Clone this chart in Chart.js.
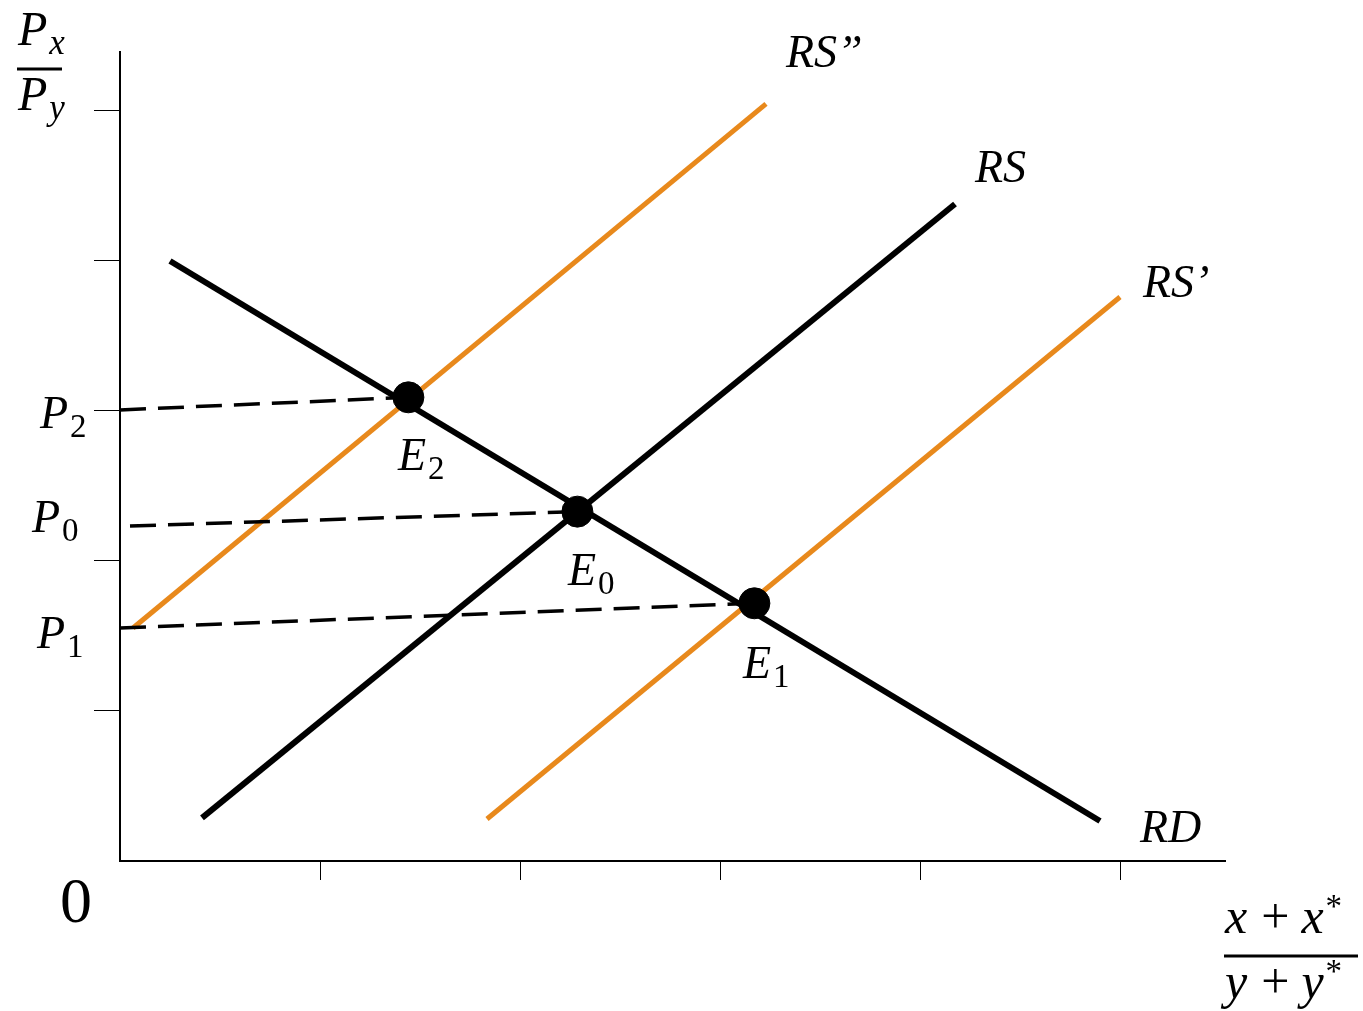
<!DOCTYPE html>
<html>
<head>
<meta charset="utf-8">
<script src="https://cdn.jsdelivr.net/npm/chart.js@4.4.0/dist/chart.umd.min.js"></script>
<style>
  html, body { margin: 0; padding: 0; background: #fff; }
  canvas { display: block; }
</style>
</head>
<body>
<canvas id="chart" width="1363" height="1011"></canvas>
<script>
// axis ticks (unlabelled)
const xTicks = [1, 2, 3, 4, 5];
const yTicks = [1, 2, 3, 4, 5];

// curves, in axis units
const rdCurve = [{x: 0.25, y: 4.0}, {x: 4.9, y: 0.267}];
const rsCurve = [{x: 0.41, y: 0.287}, {x: 4.175, y: 4.38}];
const rsHighCurve = [{x: 0.065, y: 1.553}, {x: 3.23, y: 5.047}];  // RS''
const rsLowCurve = [{x: 1.835, y: 0.28}, {x: 5.0, y: 3.76}];      // RS'

// equilibrium points E2, E0, E1
const equilibria = [{x: 1.442, y: 3.091}, {x: 2.287, y: 2.329}, {x: 3.172, y: 1.718}];

// dashed price lines
const p2Line = [{x: 0, y: 3.007}, {x: 1.442, y: 3.091}];
const p0Line = [{x: 0.05, y: 2.233}, {x: 2.287, y: 2.329}];
const p1Line = [{x: 0, y: 1.553}, {x: 3.172, y: 1.718}];

const ORANGE = '#E8891C';
const FONT = '"Liberation Serif", "Times New Roman", serif';

// text labels: anchor (left, baseline) in axis units, font size, then runs
// run: [text, italic, kind] kind: '' normal, 'sub', 'sup', 'op'
const labels = [
  {x: 3.33, y: 5.293, size: 46, runs: [['RS\u201D', true, '']]},
  {x: 4.275, y: 4.527, size: 46, runs: [['RS', true, '']]},
  {x: 5.115, y: 3.76, size: 46, runs: [['RS\u2019', true, '']]},
  {x: 5.1, y: 0.127, size: 46, runs: [['RD', true, '']]},
  {x: 1.39, y: 2.607, size: 46, runs: [['E', true, ''], ['2', false, 'sub']]},
  {x: 2.24, y: 1.84, size: 46, runs: [['E', true, ''], ['0', false, 'sub']]},
  {x: 3.115, y: 1.22, size: 46, runs: [['E', true, ''], ['1', false, 'sub']]},
  {x: -0.4, y: 2.887, size: 46, runs: [['P', true, ''], ['2', false, 'sub']]},
  {x: -0.44, y: 2.193, size: 46, runs: [['P', true, ''], ['0', false, 'sub']]},
  {x: -0.415, y: 1.42, size: 46, runs: [['P', true, ''], ['1', false, 'sub']]},
  {x: -0.51, y: 5.44, size: 48, runs: [['P', true, ''], ['x', true, 'sub']]},
  {x: -0.51, y: 5.007, size: 48, runs: [['P', true, ''], ['y', true, 'sub']]},
  {x: 5.525, y: -0.48, size: 50, runs: [['x', true, ''], ['+', false, 'op'], ['x', true, ''], ['*', false, 'sup']]},
  {x: 5.525, y: -0.913, size: 50, runs: [['y', true, ''], ['+', false, 'op'], ['y', true, ''], ['*', false, 'sup']]}
];

// fraction bars (axis units)
const fractionBars = [
  {x0: -0.515, x1: -0.29, y: 5.28},
  {x0: 5.52, x1: 6.19, y: -0.633}
];

const textPlugin = {
  id: 'mathText',
  afterDraw(chart) {
    const ctx = chart.ctx;
    const xs = chart.scales.x, ys = chart.scales.y;
    ctx.save();
    ctx.fillStyle = '#000';
    ctx.textBaseline = 'alphabetic';
    ctx.textAlign = 'left';
    labels.forEach(lab => {
      let px = xs.getPixelForValue(lab.x);
      const py = ys.getPixelForValue(lab.y);
      lab.runs.forEach(([t, italic, kind]) => {
        let size = lab.size, dy = 0, pad = 0;
        if (kind === 'sub') { size = Math.round(lab.size * 0.72); dy = 9; }
        if (kind === 'sup') { size = Math.round(lab.size * 0.66); dy = -16; }
        if (kind === 'op') { pad = 12; }
        ctx.font = (italic ? 'italic ' : '') + size + 'px ' + FONT;
        px += pad;
        ctx.fillText(t, px, py + dy);
        px += ctx.measureText(t).width + pad + (italic && kind === '' ? 2 : 0);
      });
    });
    // origin
    ctx.font = '64px ' + FONT;
    ctx.fillText('0', xs.getPixelForValue(-0.3), ys.getPixelForValue(-0.407));
    // fraction bars
    ctx.strokeStyle = '#000';
    ctx.lineWidth = 3;
    fractionBars.forEach(b => {
      const y = ys.getPixelForValue(b.y);
      ctx.beginPath();
      ctx.moveTo(xs.getPixelForValue(b.x0), y);
      ctx.lineTo(xs.getPixelForValue(b.x1), y);
      ctx.stroke();
    });
    ctx.restore();
  }
};

const lineSet = (data, color, width, dash) => ({
  type: 'line',
  data: data,
  borderColor: color,
  borderWidth: width,
  borderDash: dash || [],
  pointRadius: 0,
  fill: false,
  tension: 0
});

new Chart(document.getElementById('chart'), {
  type: 'scatter',
  data: {
    datasets: [
      {
        data: equilibria,
        backgroundColor: '#000',
        borderColor: '#000',
        pointRadius: 15.5,
        pointHoverRadius: 15.5,
        showLine: false
      },
      lineSet(p2Line, '#000', 3.5, [26, 12]),
      lineSet(p0Line, '#000', 3.5, [26, 12]),
      lineSet(p1Line, '#000', 3.5, [26, 12]),
      lineSet(rdCurve, '#000', 6),
      lineSet(rsCurve, '#000', 6),
      lineSet(rsHighCurve, ORANGE, 5),
      lineSet(rsLowCurve, ORANGE, 5)
    ]
  },
  options: {
    responsive: false,
    animation: false,
    devicePixelRatio: 1,
    layout: { padding: { left: 0, top: 52, right: 138, bottom: 150 } },
    plugins: {
      legend: { display: false },
      tooltip: { enabled: false }
    },
    scales: {
      x: {
        type: 'linear',
        min: 0,
        max: 5.525,
        afterBuildTicks: s => { s.ticks = xTicks.map(v => ({value: v})); },
        afterFit: s => { s.height = 0; },
        ticks: { display: false },
        grid: { drawOnChartArea: false, drawTicks: true, tickLength: 19, color: '#000', lineWidth: 1 },
        border: { display: true, color: '#000', width: 2 }
      },
      y: {
        type: 'linear',
        min: 0,
        max: 5.393,
        afterBuildTicks: s => { s.ticks = yTicks.map(v => ({value: v})); },
        afterFit: s => { s.width = 120; },
        ticks: { display: false },
        grid: { drawOnChartArea: false, drawTicks: true, tickLength: 26, color: '#000', lineWidth: 1 },
        border: { display: true, color: '#000', width: 2 }
      }
    }
  },
  plugins: [textPlugin]
});
</script>
</body>
</html>
